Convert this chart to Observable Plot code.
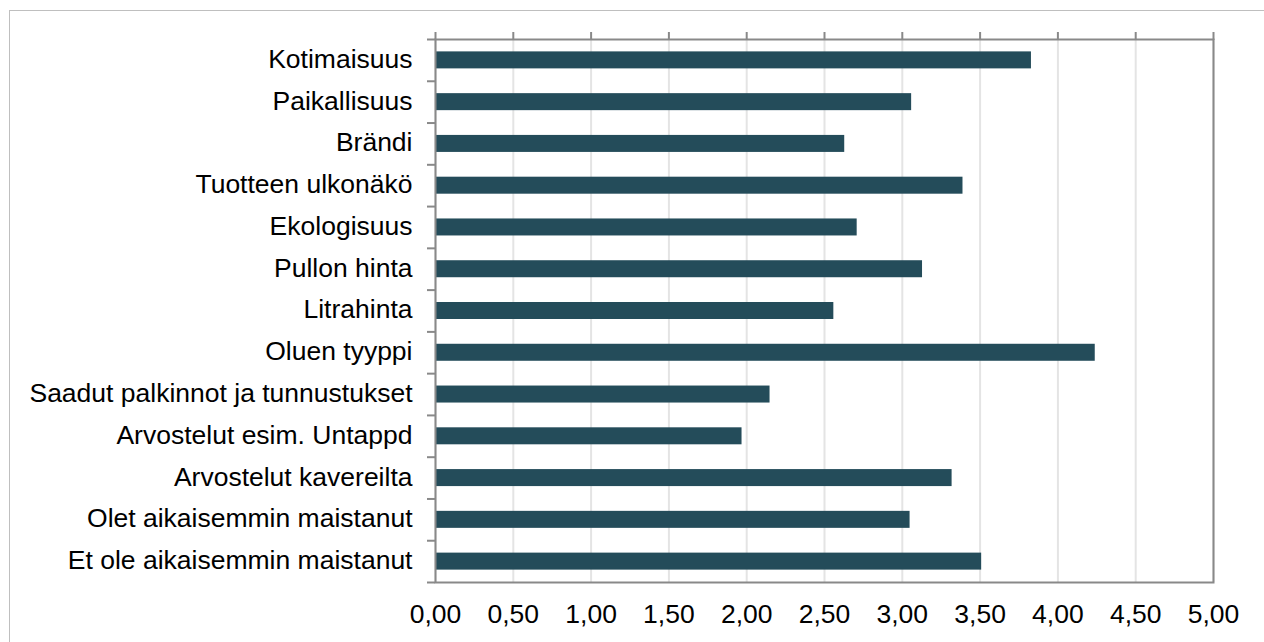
<!DOCTYPE html>
<html>
<head>
<meta charset="utf-8">
<script src="https://cdn.jsdelivr.net/npm/d3@7"></script>
<script src="https://cdn.jsdelivr.net/npm/@observablehq/plot@0.6"></script>
<style>
  html, body { margin: 0; padding: 0; background: #fff; overflow: hidden; }
  #chart { position: relative; width: 1264px; height: 642px; overflow: hidden; }
  #chart svg { position: absolute; left: 0; top: 0; }
  #chart .border {
    position: absolute; left: 9px; top: 10px; right: -20px; bottom: -20px;
    border: 1px solid #bfbfbf; pointer-events: none;
  }
</style>
</head>
<body>
<div id="chart"></div>
<script>
// Ratings (scale 0–5) for each factor in choosing a beer
const categories = [
  "Kotimaisuus",
  "Paikallisuus",
  "Brändi",
  "Tuotteen ulkonäkö",
  "Ekologisuus",
  "Pullon hinta",
  "Litrahinta",
  "Oluen tyyppi",
  "Saadut palkinnot ja tunnustukset",
  "Arvostelut esim. Untappd",
  "Arvostelut kavereilta",
  "Olet aikaisemmin maistanut",
  "Et ole aikaisemmin maistanut"
];
const values = [3.83, 3.06, 2.63, 3.39, 2.71, 3.13, 2.56, 4.24, 2.15, 1.97, 3.32, 3.05, 3.51];
const xTicks = [0, 0.5, 1, 1.5, 2, 2.5, 3, 3.5, 4, 4.5, 5];
const tickLabels = ["0,00", "0,50", "1,00", "1,50", "2,00", "2,50", "3,00", "3,50", "4,00", "4,50", "5,00"];

const data = categories.map((c, i) => ({category: c, value: values[i]}));

const W = 1264, H = 642;
const mL = 435, mR = 51, mT = 39, mB = 60;
const plotW = W - mL - mR;
const band = (H - mT - mB) / categories.length;
const barH = 17;
const axisGray = "#898989";

const chart = Plot.plot({
  width: W,
  height: H,
  marginLeft: mL,
  marginRight: mR,
  marginTop: mT,
  marginBottom: mB,
  style: {fontFamily: "'Liberation Sans', Arial, sans-serif", fontSize: "26.5px", color: "#000", background: "#fff"},
  x: {domain: [0, 5], label: null},
  y: {domain: categories, padding: 0, round: false, label: null},
  marks: [
    Plot.gridX(xTicks, {stroke: "#e4e4e4", strokeOpacity: 1, strokeWidth: 2}),
    Plot.barX(data, {
      x: "value", y: "category", fill: "#244c5a",
      insetTop: (band - barH) / 2, insetBottom: (band - barH) / 2
    }),
    Plot.frame({stroke: axisGray, strokeWidth: 2}),
    // short tick marks above the frame at each gridline
    Plot.axisX({
      anchor: "top", ticks: xTicks, tickSize: 8, tickFormat: () => "",
      label: null, stroke: axisGray, strokeWidth: 2
    }),
    Plot.axisX({
      anchor: "bottom", ticks: xTicks, tickSize: 0, tickPadding: 22,
      tickFormat: d => tickLabels[xTicks.indexOf(d)], label: null, fill: "#000"
    }),
    Plot.axisY({tickSize: 0, tickPadding: 23, label: null, fill: "#000", dy: -1}),
    // category separator ticks on the left axis
    Plot.ruleY(categories, {
      y: d => d, dy: -band / 2, dx: -8, insetRight: plotW - 8,
      stroke: axisGray, strokeWidth: 2
    }),
    Plot.ruleY([categories[categories.length - 1]], {
      y: d => d, dy: band / 2, dx: -8, insetRight: plotW - 8,
      stroke: axisGray, strokeWidth: 2
    })
  ]
});

const host = document.getElementById("chart");
host.appendChild(chart);
const border = document.createElement("div");
border.className = "border";
host.appendChild(border);
</script>
</body>
</html>
